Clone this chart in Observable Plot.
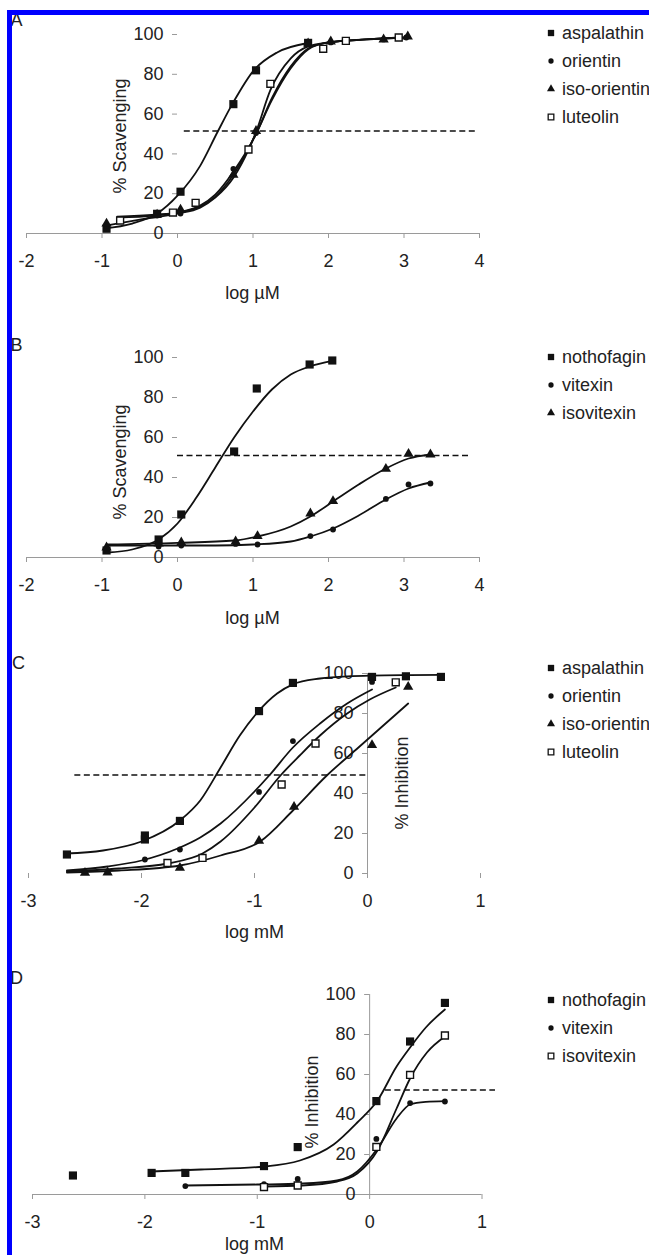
<!DOCTYPE html>
<html><head><meta charset="utf-8">
<script src="https://cdn.jsdelivr.net/npm/d3@7"></script>
<script src="https://cdn.jsdelivr.net/npm/@observablehq/plot@0.6"></script>
<style>
body{margin:0;background:#fff;width:649px;height:1255px;overflow:hidden;position:relative;font-family:"Liberation Sans",Arial,sans-serif;color:#222}
svg.panel{position:absolute;left:0}
.lbl{position:absolute;font-size:18px;white-space:nowrap;transform:translate(-50%,-50%);line-height:1}
.rot{transform:translate(-50%,-50%) rotate(-90deg)}
.leg{position:absolute;font-size:18px;white-space:nowrap;line-height:1;transform:translateY(-50%)}
.legsym{position:absolute}
#frame{position:absolute;left:7px;top:10px;width:800px;height:1400px;border-left:5px solid #0000ff;border-top:5px solid #0000ff;z-index:10}
</style></head><body>
<div id="frame"></div>
<script>
// ---- shared ticks ----
const yTicks = [0, 20, 40, 60, 80, 100];
const xTicksAB = [-2, -1, 0, 1, 2, 3, 4];
const xTicksCD = [-3, -2, -1, 0, 1];

// ---- Panel A: % scavenging vs log µM ----
const namesA = ["aspalathin", "orientin", "iso-orientin", "luteolin"];
const kindsA = ["filledSquare", "circle", "triangle", "openSquare"];
const A_aspalathin = [[-0.94,2.4],[-0.27,9.9],[0.04,21],[0.74,65],[1.04,82],[1.73,95.8]];
const A_orientin = [[-0.94,4],[-0.27,9],[0.04,10],[0.74,32.5],[1.04,50.5],[1.73,95],[2.03,96],[2.73,97.5],[3.03,98.5]];
const A_isoorientin = [[-0.94,5],[-0.27,9.5],[0.04,12],[0.74,29.5],[1.04,51.5],[1.73,95.5],[2.03,96.5],[2.73,97.5],[3.05,99]];
const A_luteolin = [[-0.76,6.5],[-0.06,10.5],[0.24,15.4],[0.94,42.2],[1.23,75.2],[1.93,92.8],[2.23,96.8],[2.93,98.5]];
const A_fit_aspalathin = [[-0.97,2.5],[-0.6,5],[-0.27,10],[0,19],[0.3,34],[0.53,51],[0.74,66],[1.01,82],[1.32,91],[1.71,95.6]];
const A_fit_orientin = [[-0.8,8],[-0.3,9],[0,10.5],[0.3,14],[0.5,19.5],[0.74,31],[1.04,50],[1.25,68],[1.5,84],[1.73,93],[2.0,96],[2.5,97.5],[3.03,98.5]];
const A_fit_isoorientin = [[-0.8,8.5],[-0.3,9.5],[0,10.5],[0.3,13.5],[0.5,18.5],[0.74,29.5],[1.04,50],[1.25,67],[1.5,83],[1.73,92.5],[2.0,96],[2.5,97.5],[3.05,98.5]];
const A_fit_luteolin = [[-0.95,4],[-0.5,7],[0,10],[0.3,13],[0.5,18],[0.74,28],[0.94,42],[1.04,51],[1.23,72],[1.5,88],[1.73,94],[2.0,96],[2.5,97.5],[2.93,98.5]];
const A_half = [{x1: 0.09, x2: 3.96, y: 51.5}];

// ---- Panel B ----
const namesB = ["nothofagin", "vitexin", "isovitexin"];
const kindsB = ["filledSquare", "circle", "triangle"];
const B_nothofagin = [[-0.94,3.5],[-0.25,9],[0.05,21.5],[0.75,53],[1.05,84.5],[1.75,96.5],[2.05,98.5]];
const B_vitexin = [[-0.94,4.5],[-0.25,5.5],[0.05,6],[0.77,6.8],[1.06,6.5],[1.76,10.7],[2.06,14],[2.76,29.3],[3.06,36.5],[3.35,37]];
const B_isovitexin = [[-0.94,5],[-0.25,7],[0.05,7.5],[0.77,8],[1.06,10.7],[1.76,22],[2.06,28.2],[2.76,44.3],[3.06,51.8],[3.35,51.5]];
const B_fit_nothofagin = [[-0.93,2.5],[-0.6,4],[-0.25,9],[0,17],[0.25,30],[0.5,45],[0.75,60],[1.0,73],[1.25,84],[1.5,91.5],[1.75,95.5],[2.05,98.3]];
const B_fit_vitexin = [[-0.94,6],[0,6],[0.5,6],[1.0,6.5],[1.5,8],[1.76,10.5],[2.06,14.5],[2.4,21],[2.76,29],[3.06,34.5],[3.35,37.5]];
const B_fit_isovitexin = [[-0.94,6.5],[0,7.3],[0.75,8.5],[1.06,10.5],[1.5,15.5],[1.76,20.5],[2.06,28],[2.4,36.5],[2.76,44.5],[3.06,49.5],[3.35,51.5]];
const B_half = [{x1: 0.0, x2: 3.9, y: 51}];

// ---- Panel C: % inhibition vs log mM ----
const namesC = ["aspalathin", "orientin", "iso-orientin", "luteolin"];
const kindsC = ["filledSquare", "circle", "triangle", "openSquare"];
const C_aspalathin = [[-2.66,9.5],[-1.97,17],[-1.97,19],[-1.66,26.3],[-0.96,81.2],[-0.66,95.3],[0.04,98.3],[0.34,98.6],[0.65,98.3]];
const C_orientin = [[-1.97,7],[-1.66,12],[-0.96,40.8],[-0.66,66.2],[0.04,95.8]];
const C_isoorientin = [[-2.5,0.3],[-2.3,0.5],[-1.66,2.8],[-0.96,16.3],[-0.65,33.3],[0.04,64.2],[0.36,93.3]];
const C_luteolin = [[-1.77,5.3],[-1.46,7.8],[-0.76,44.5],[-0.46,65],[0.25,95.6]];
const C_fit_aspalathin = [[-2.67,10],[-2.34,11.5],[-2.0,16],[-1.66,26.5],[-1.48,36.5],[-1.3,53],[-1.13,69],[-0.97,80.8],[-0.8,90],[-0.66,94.6],[-0.42,97.5],[-0.18,98.6],[0.3,99.2],[0.65,99.3]];
const C_fit_orientin = [[-2.66,1.5],[-2.3,3.5],[-2.0,6.5],[-1.68,12.5],[-1.48,18],[-1.3,25],[-1.0,41],[-0.87,49],[-0.66,63],[-0.42,75],[-0.18,85],[0.04,92]];
const C_fit_isoorientin = [[-2.66,0.5],[-2.2,1.5],[-1.66,4],[-1.3,9],[-0.95,16],[-0.66,31.5],[-0.36,49],[-0.1,62],[0.11,72.5],[0.36,85]];
const C_fit_luteolin = [[-2.66,1],[-2.2,2.5],[-1.77,5],[-1.46,10],[-1.3,16],[-1.0,33],[-0.77,49],[-0.6,59],[-0.42,69],[-0.18,80],[0.02,87],[0.25,93]];
const C_half = [{x1: -2.59, x2: 0, y: 49.2}];

// ---- Panel D ----
const namesD = ["nothofagin", "vitexin", "isovitexin"];
const kindsD = ["filledSquare", "circle", "openSquare"];
const D_nothofagin = [[-2.64,9.5],[-1.94,10.8],[-1.64,10.8],[-0.94,14.2],[-0.64,23.7],[0.06,46.7],[0.36,76.5],[0.67,95.8]];
const D_vitexin = [[-1.64,4.2],[-0.94,5.2],[-0.64,7.8],[0.06,27.8],[0.36,45.7],[0.67,46.5]];
const D_isovitexin = [[-0.94,3.7],[-0.64,4.5],[0.06,23.8],[0.36,59.8],[0.67,79.5]];
const D_fit_nothofagin = [[-1.95,11.5],[-1.5,12.5],[-0.94,14],[-0.62,17],[-0.32,25],[-0.11,36],[0.07,47],[0.24,64],[0.36,73.5],[0.5,83.5],[0.67,92.5]];
const D_fit_vitexin = [[-1.64,4.5],[-1.0,5],[-0.6,5.5],[-0.29,7],[-0.11,11.5],[0.07,23],[0.24,38],[0.36,45],[0.5,46.3],[0.67,46.7]];
const D_fit_isovitexin = [[-0.94,4],[-0.6,4.5],[-0.29,6.5],[-0.11,10.5],[0.07,22],[0.24,43],[0.36,58],[0.51,71],[0.67,79]];
const D_half = [{x1: 0.14, x2: 1.12, y: 52.3}];

const INK = "#111";
const AXIS = "#9a9a9a";
const FONT = "'Liberation Sans', Arial, sans-serif";

function dotStyle(kind) {
  if (kind === "filledSquare") return {symbol: "square", r: 4.6, fill: INK, stroke: "none"};
  if (kind === "circle") return {symbol: "circle", r: 2.9, fill: INK, stroke: "none"};
  if (kind === "triangle") return {symbol: "triangle", r: 3.8, fill: INK, stroke: "none"};
  return {symbol: "square", r: 3.9, fill: "white", stroke: INK, strokeWidth: 1.4};
}

const panels = [
  {letter: "A", top: 0, h: 300, mt: 34, mb: 67, ml: 26, mr: 170, xd: [-2, 4], xt: xTicksAB, xLine: true, yLine: false,
   names: namesA, kinds: kindsA, pts: [A_aspalathin, A_orientin, A_isoorientin, A_luteolin],
   fits: [A_fit_aspalathin, A_fit_orientin, A_fit_isoorientin, A_fit_luteolin], half: A_half,
   letterPos: [16.5, 20], yLabel: "% Scavenging", yLabelPos: [120, 136], xLabel: "log µM", xLabelPos: [252.5, 293], legendY: 33},
  {letter: "B", top: 310, h: 300, mt: 47, mb: 53, ml: 26, mr: 170, xd: [-2, 4], xt: xTicksAB, xLine: true, yLine: false,
   names: namesB, kinds: kindsB, pts: [B_nothofagin, B_vitexin, B_isovitexin],
   fits: [B_fit_nothofagin, B_fit_vitexin, B_fit_isovitexin], half: B_half,
   letterPos: [16.5, 345], yLabel: "% Scavenging", yLabelPos: [120, 461.5], xLabel: "log µM", xLabelPos: [252.5, 618], legendY: 357},
  {letter: "C", top: 620, h: 300, mt: 53, mb: 47, ml: 28, mr: 169, xd: [-3, 1], xt: xTicksCD, xLine: false, yLine: true,
   names: namesC, kinds: kindsC, pts: [C_aspalathin, C_orientin, C_isoorientin, C_luteolin],
   fits: [C_fit_aspalathin, C_fit_orientin, C_fit_isoorientin, C_fit_luteolin], half: C_half,
   letterPos: [18.6, 663], yLabel: "% Inhibition", yLabelPos: [401.6, 783], xLabel: "log mM", xLabelPos: [254.6, 931.7], legendY: 668},
  {letter: "D", top: 940, h: 300, mt: 54, mb: 46, ml: 32, mr: 167.5, xd: [-3, 1], xt: xTicksCD, xLine: true, yLine: true,
   names: namesD, kinds: kindsD, pts: [D_nothofagin, D_vitexin, D_isovitexin],
   fits: [D_fit_nothofagin, D_fit_vitexin, D_fit_isovitexin], half: D_half,
   letterPos: [16.5, 978], yLabel: "% Inhibition", yLabelPos: [311.6, 1101.5], xLabel: "log mM", xLabelPos: [254.6, 1244], legendY: 1000}
];

for (const p of panels) {
  const marks = [];
  if (p.xLine) marks.push(Plot.ruleY([0], {stroke: AXIS, strokeWidth: 1}));
  if (p.yLine) marks.push(Plot.ruleX([0], {y1: 0, y2: 100, stroke: AXIS, strokeWidth: 1}));
  marks.push(Plot.axisX(p.xt, {tickSize: 5, tickPadding: 16, tickFormat: d => String(d), stroke: AXIS, fill: "#222", label: null, fontSize: 18}));
  marks.push(Plot.ruleY(yTicks, {y: d => d, x1: 0, x2: 0, insetLeft: -5, stroke: AXIS}));
  marks.push(Plot.text(yTicks, {x: 0, y: d => d, text: d => String(d), dx: -14, textAnchor: "end", fontSize: 18, fill: "#222"}));
  marks.push(Plot.ruleY(p.half, {y: "y", x1: "x1", x2: "x2", stroke: INK, strokeWidth: 1.5, strokeDasharray: "6,3.5"}));
  p.fits.forEach(f => marks.push(Plot.line(f, {x: d => d[0], y: d => d[1], curve: "monotone-x", stroke: INK, strokeWidth: 1.8})));
  p.pts.forEach((pts, i) => marks.push(Plot.dot(pts, {x: d => d[0], y: d => d[1], ...dotStyle(p.kinds[i])})));
  const svg = Plot.plot({
    width: 649, height: p.h,
    marginTop: p.mt, marginBottom: p.mb, marginLeft: p.ml, marginRight: p.mr,
    x: {domain: p.xd},
    y: {domain: [0, 100], axis: null},
    style: {background: "transparent", fontFamily: FONT, fontSize: "18px", color: "#222", overflow: "visible"},
    marks
  });
  svg.classList.add("panel");
  svg.style.top = p.top + "px";
  svg.style.position = "absolute";
  document.body.appendChild(svg);
}

function addLabel(text, pos, rot) {
  const d = document.createElement("div");
  d.className = "lbl" + (rot ? " rot" : "");
  d.textContent = text;
  d.style.left = pos[0] + "px";
  d.style.top = pos[1] + "px";
  document.body.appendChild(d);
}

const legendSize = {filledSquare: 40, circle: 22, triangle: 28, openSquare: 32};
for (const p of panels) {
  addLabel(p.letter, p.letterPos, false);
  addLabel(p.yLabel, p.yLabelPos, true);
  addLabel(p.xLabel, p.xLabelPos, false);
  p.names.forEach((name, i) => {
    const cy = p.legendY + i * 28;
    const kind = p.kinds[i];
    const ns = "http://www.w3.org/2000/svg";
    const s = document.createElementNS(ns, "svg");
    s.setAttribute("width", 12); s.setAttribute("height", 12);
    s.setAttribute("class", "legsym");
    s.style.left = (550.6 - 6) + "px"; s.style.top = (cy - 6) + "px";
    const path = document.createElementNS(ns, "path");
    const type = kind === "circle" ? d3.symbolCircle : kind === "triangle" ? d3.symbolTriangle : d3.symbolSquare;
    path.setAttribute("d", d3.symbol(type, legendSize[kind])());
    path.setAttribute("transform", "translate(6,6)");
    if (kind === "openSquare") { path.setAttribute("fill", "white"); path.setAttribute("stroke", INK); path.setAttribute("stroke-width", 1.3); }
    else path.setAttribute("fill", INK);
    s.appendChild(path);
    document.body.appendChild(s);
    const t = document.createElement("div");
    t.className = "leg";
    t.textContent = name;
    t.style.left = "562px"; t.style.top = cy + "px";
    document.body.appendChild(t);
  });
}
</script>
</body></html>
